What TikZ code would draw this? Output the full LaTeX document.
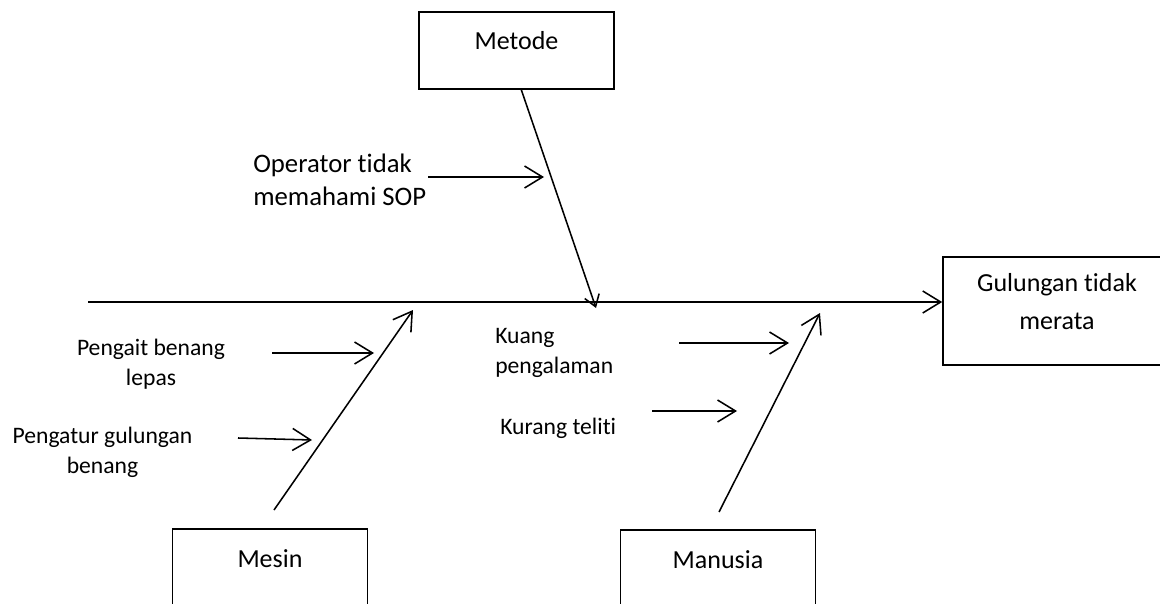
\documentclass[tikz,border=0pt]{standalone}
\usepackage{fontspec}
\setmainfont[Ligatures=NoCommon]{Carlito}
\usetikzlibrary{arrows.meta}
\tikzset{boxline/.style={
		draw,
		line width=1.1pt,
		rectangle,
		inner sep=0pt
	},
	causebox/.style={
		boxline,
		minimum width=4.875cm,
		text height=0.95cm,
		text depth=0.975cm,
		font=\fontsize{18.5}{23}\selectfont
	},
	effectbox/.style={
		boxline,
		minimum width=5.7cm,
		minimum height=2.7cm
	},
	boxtext/.style={font=\fontsize{18.5}{27}\selectfont, inner sep=0pt},
	bigtext/.style={font=\fontsize{19}{23.5}\selectfont, inner sep=0pt},
	smalltext/.style={font=\fontsize{16.8}{21.5}\selectfont, inner sep=0pt},
	bone/.style={line width=1.1pt, -{Straight Barb[length=0.45cm,width=0.55cm]}},
	smallbone/.style={line width=1.1pt, -{Straight Barb[length=0.28cm,width=0.38cm]}}
}

\begin{document}
\begin{tikzpicture}[x=0.025cm,y=-0.025cm]
	\clip (0,0) rectangle (1160,604);
	% boxes
	\node[causebox,anchor=base] (metode) at (516.5,50) {Metode};
	\node[causebox,anchor=base,text depth=1.6cm] (mesin) at (270,567) {Mesin};
	\node[causebox,anchor=base,text depth=1.6cm] (manusia) at (718,568) {Manusia};
	\node[effectbox] (effect) at (1057,311) {};
	\node[boxtext,align=center] (effecttext) at (1057,302) {Gulungan tidak\\merata};
	
	% spine and bones
	\coordinate (tail) at (88,302);
	\coordinate (metodeend) at (596,308);
	\coordinate (mesinstart) at (274,510);
	\coordinate (mesinend) at (413,310);
	\coordinate (manusiastart) at (719,512);
	\coordinate (manusiaend) at (820,313);
	\draw[bone] (tail) -- (tail -| effect.west);
	\draw[smallbone] ([xshift=0.12cm]metode.south) -- (metodeend);
	\draw[bone] (mesinstart) -- (mesinend);
	\draw[bone] (manusiastart) -- (manusiaend);
	
	% sub causes
	\node[bigtext,align=left,anchor=west] (operator) at (253,180) {Operator tidak\\memahami SOP};
	\node[smalltext,align=center] (pengait) at (151,364) {Pengait benang\\lepas};
	\node[smalltext,align=center] (pengatur) at (102.5,452) {Pengatur gulungan\\benang};
	\node[smalltext,align=left,anchor=west] (kuang) at (495,353) {Kuang\\pengalaman};
	\node[smalltext,anchor=base west] (teliti) at (500,434) {Kurang teliti};
	
	\coordinate (op1) at (428,177);
	\coordinate (op2) at (544,177);
	\coordinate (pk1) at (272,353);
	\coordinate (pk2) at (374,353);
	\coordinate (pg1) at (238,438);
	\coordinate (pg2) at (312,440);
	\coordinate (ku1) at (679,343);
	\coordinate (ku2) at (789,343);
	\coordinate (te1) at (652,411);
	\coordinate (te2) at (737,411);
	\draw[bone] (op1) -- (op2);
	\draw[bone] (pk1) -- (pk2);
	\draw[bone] (pg1) -- (pg2);
	\draw[bone] (ku1) -- (ku2);
	\draw[bone] (te1) -- (te2);
\end{tikzpicture}
\end{document}
